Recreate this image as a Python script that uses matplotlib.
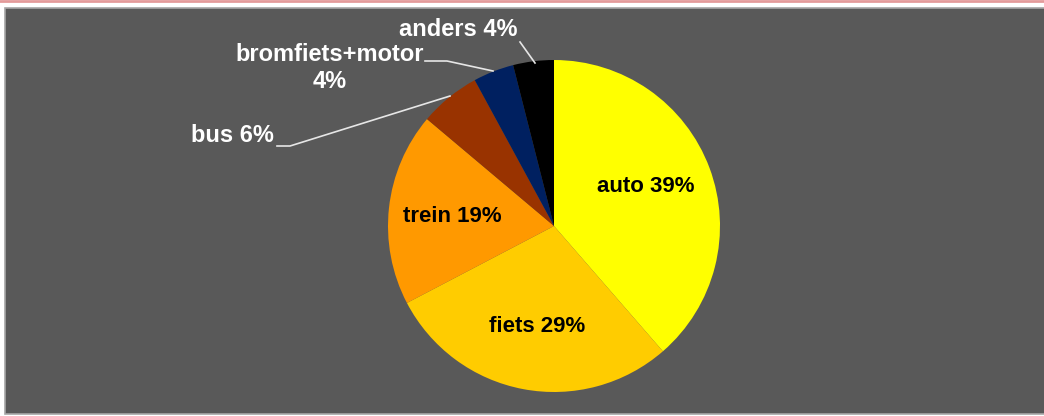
import matplotlib
matplotlib.use("Agg")
import matplotlib.pyplot as plt
from matplotlib.patches import Rectangle

categories = ["auto", "fiets", "trein", "bus", "bromfiets+motor", "anders"]
values = [39, 29, 19, 6, 4, 4]
labels = ["auto 39%", "fiets 29%", "trein 19%", "bus 6%", "bromfiets+motor\n4%", "anders 4%"]
colors = ["#FFFF00", "#FFCC00", "#FF9900", "#993300", "#002060", "#000000"]

W, H = 1044, 416
fig = plt.figure(figsize=(W / 100, H / 100), dpi=100)
fig.patch.set_facecolor("white")
ax = fig.add_axes([0, 0, 1, 1])
ax.set_xlim(0, W)
ax.set_ylim(0, H)
ax.set_aspect("equal")
ax.axis("off")

def Y(py):
    return H - py

# background panel
ax.add_patch(Rectangle((5, Y(414)), W + 10, 414 - 8, facecolor="#595959",
                       edgecolor="#A6A6A6", linewidth=1.2, zorder=0))
ax.plot([0, W], [Y(0.8), Y(0.8)], color="#E39A9A", linewidth=2, zorder=1)

cx, cy, r = 554, 226, 166
wedges, _ = ax.pie(values, colors=colors, startangle=90, counterclock=False,
                   center=(cx, Y(cy)), radius=r, frame=True,
                   wedgeprops=dict(linewidth=0))
ax.set_xlim(0, W)
ax.set_ylim(0, H)
ax.axis("off")

fin = dict(family=["Liberation Sans", "DejaVu Sans"], fontweight="bold", fontsize=16)
fout = dict(family=["Liberation Sans", "DejaVu Sans"], fontweight="bold", fontsize=17)

# inside labels
inside = {0: (646, 187), 1: (537, 327), 2: (452, 216)}
for i, (x, y) in inside.items():
    ax.text(x, Y(y), labels[i], color="black", ha="center", va="center", **fin)

# outside labels
ax.text(458, Y(30), labels[5], color="white", ha="center", va="center", **fout)
ax.text(330, Y(68), labels[4], color="white", ha="center", va="center",
        linespacing=1.2, **fout)
ax.text(232, Y(136), labels[3], color="white", ha="center", va="center", **fout)

# leader lines
lc = dict(color="#E6E6E6", linewidth=1.2, zorder=5)
ax.plot([520, 535], [Y(42), Y(63)], **lc)
ax.plot([425, 447, 493], [Y(61), Y(61), Y(71)], **lc)
ax.plot([277, 290, 450], [Y(146), Y(146), Y(96)], **lc)

fig.savefig("out.png", dpi=100, facecolor=fig.get_facecolor())
